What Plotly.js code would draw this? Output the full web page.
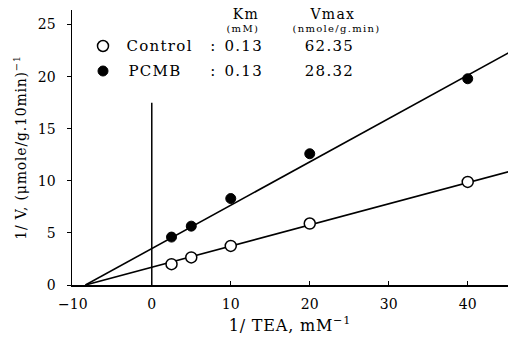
<!DOCTYPE html>
<html>
<head>
<meta charset="utf-8">
<script src="https://cdn.plot.ly/plotly-3.0.1.min.js"></script>
<style>
html,body{margin:0;padding:0;background:#fff;}
#chart{width:513px;height:343px;}
#chart .annotation-text{letter-spacing:1.3px;}
#chart .xtitle,#chart .ytitle{letter-spacing:0.8px;}
</style>
</head>
<body>
<div id="chart"></div>
<script>
// Data
const substrateInv = [2.5, 5, 10, 20, 40];          // 1/[TEA], mM^-1
const controlInvV = [2.0, 2.65, 3.75, 5.9, 9.9];    // 1/V control
const pcmbInvV    = [4.6, 5.65, 8.3, 12.6, 19.8];   // 1/V PCMB
const fitX        = [-8.4, 45.3];                   // fitted line extent
const controlFitY = [0, 10.9];
const pcmbFitX    = [-8.4, 45.66];
const pcmbFitY    = [0, 22.5];
const zeroLineX   = [0, 0];
const zeroLineY   = [0, 17.5];
const xTicks = [-10, 0, 10, 20, 30, 40];
const yTicks = [0, 5, 10, 15, 20, 25];
const seriesNames = ["Control", "PCMB"];
const kmValues = ["0.13", "0.13"];
const vmaxValues = ["62.35", "28.32"];

const FONT = "DejaVu Serif";
const traces = [
  {x: zeroLineX, y: zeroLineY, mode: "lines", line: {color: "#000", width: 1.5}, hoverinfo: "skip"},
  {x: fitX, y: controlFitY, mode: "lines", line: {color: "#000", width: 1.6}, hoverinfo: "skip"},
  {x: pcmbFitX, y: pcmbFitY, mode: "lines", line: {color: "#000", width: 1.6}, hoverinfo: "skip"},
  {x: substrateInv, y: controlInvV, mode: "markers", name: seriesNames[0],
   marker: {symbol: "circle", size: 11, color: "#fff", line: {color: "#000", width: 1.5}}},
  {x: substrateInv, y: pcmbInvV, mode: "markers", name: seriesNames[1],
   marker: {symbol: "circle", size: 10, color: "#000", line: {color: "#000", width: 1}}}
];

const L = 72, T = 10, W = 436, H = 275;
function px(x){ return (x - L) / W; }
function py(y){ return (T + H - y) / H; }

const annotations = [];
function txt(text, x, y, size, xanchor){
  annotations.push({text: text, xref: "paper", yref: "paper", x: px(x), y: py(y),
    xanchor: xanchor || "center", yanchor: "middle", showarrow: false, borderpad: 0,
    font: {family: FONT, size: size, color: "#000"}});
}
txt("Km", 246, 14, 14);
txt("(mM)", 243, 28.5, 10);
txt("Vmax", 332, 14, 14);
txt("(nmole/g.min)", 336, 28.5, 10);
const rowY = [46, 71];
for (let i = 0; i < 2; i++) {
  txt(seriesNames[i], 130, rowY[i], 15, "left");
  txt(":", 213, rowY[i], 15);
  txt(kmValues[i], 226, rowY[i], 15, "left");
  txt(vmaxValues[i], 329, rowY[i], 15);
}

const shapes = [
  {type: "circle", xref: "paper", yref: "paper", xsizemode: "pixel", ysizemode: "pixel",
   xanchor: px(103), yanchor: py(46), x0: -5.5, x1: 5.5, y0: -5.5, y1: 5.5,
   fillcolor: "#fff", line: {color: "#000", width: 1.5}},
  {type: "circle", xref: "paper", yref: "paper", xsizemode: "pixel", ysizemode: "pixel",
   xanchor: px(103), yanchor: py(71), x0: -5, x1: 5, y0: -5, y1: 5,
   fillcolor: "#000", line: {color: "#000", width: 1}}
];

const layout = {
  width: 513, height: 343,
  margin: {l: L, r: 513 - L - W, t: T, b: 343 - T - H},
  paper_bgcolor: "#fff", plot_bgcolor: "#fff",
  showlegend: false,
  font: {family: FONT, size: 14, color: "#000"},
  xaxis: {
    range: [-10.1, 45.1], tickvals: xTicks, ticks: "inside", ticklen: 4, tickcolor: "#000",
    showline: true, linecolor: "#000", linewidth: 1.5, showgrid: false, zeroline: false,
    ticklabelstandoff: 6, tickfont: {family: FONT, size: 14},
    title: {text: "1/ TEA, mM<sup>−1</sup>", font: {family: FONT, size: 16}, standoff: 8}
  },
  yaxis: {
    range: [0, 26.4], tickvals: yTicks, ticks: "outside", ticklen: 4, tickcolor: "#000",
    showline: true, linecolor: "#000", linewidth: 1.5, showgrid: false, zeroline: false,
    ticklabelstandoff: 8, tickfont: {family: FONT, size: 14},
    title: {text: "1/ V, (μmole/g.10min)<sup>−1</sup>", font: {family: FONT, size: 14}, standoff: 8}
  },
  annotations: annotations,
  shapes: shapes
};

Plotly.newPlot("chart", traces, layout, {staticPlot: true, displayModeBar: false});
</script>
</body>
</html>
